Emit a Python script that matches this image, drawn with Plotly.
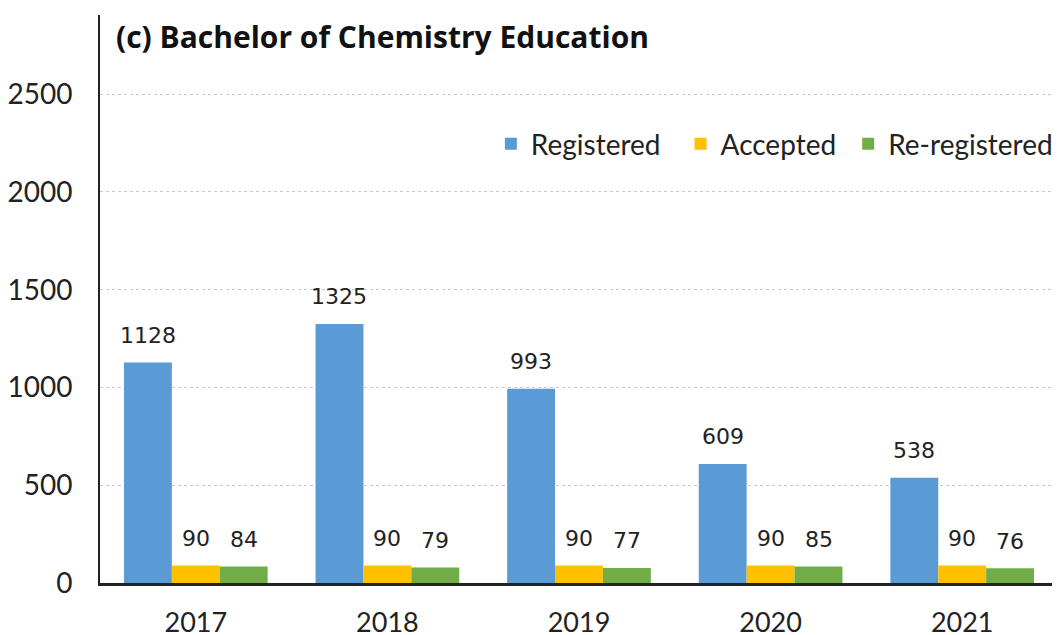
import plotly.graph_objects as go

years = ["2017", "2018", "2019", "2020", "2021"]
registered = [1128, 1325, 993, 609, 538]
accepted = [90, 90, 90, 90, 90]
reregistered = [84, 79, 77, 85, 76]
series_names = ["Registered", "Accepted", "Re-registered"]
colors = ["#5B9BD5", "#FFC000", "#70AD47"]
title_text = "(c) Bachelor of Chemistry Education"
y_ticks = [0, 500, 1000, 1500, 2000, 2500]

xpos = list(range(len(years)))
legend_ids = ["legend", "legend2", "legend3"]
legend_x = [0.408, 0.606, 0.781]

fig = go.Figure()
all_series = [registered, accepted, reregistered]
for name, vals, col, lg in zip(series_names, all_series, colors, legend_ids):
    fig.add_trace(go.Bar(x=xpos, y=vals, name=name, legend=lg,
                         marker=dict(color=col, line=dict(width=0))))

bar_px = 48
offsets = [-bar_px, 0, bar_px]
for vals, off in zip(all_series, offsets):
    for xi, v in zip(xpos, vals):
        fig.add_annotation(x=xi, y=v, text=str(v), showarrow=False, xshift=off, yshift=27,
                           yanchor="middle", font=dict(family="DejaVu Sans", size=22, color="#222"))

fig.add_annotation(xref="paper", yref="paper", x=0.015, y=0.963, xanchor="left", yanchor="middle",
                   text="<b>" + title_text + "</b>", showarrow=False,
                   font=dict(family="Open Sans", size=30, color="#111"))

legend_style = dict(orientation="h", y=0.773, xanchor="left", yanchor="middle",
                    font=dict(family="Lato", size=28, color="#222"), bgcolor="rgba(0,0,0,0)")
layout_legends = {lg: dict(legend_style, x=lx) for lg, lx in zip(legend_ids, legend_x)}

fig.update_layout(
    width=1060, height=635,
    margin=dict(l=92, r=10, t=7, b=60),
    paper_bgcolor="white", plot_bgcolor="white",
    barmode="group", bargap=0.25, bargroupgap=0,
    font=dict(family="Lato", size=28, color="#222"),
    showlegend=True,
    **layout_legends,
)
fig.update_yaxes(range=[0, 2905], tickvals=y_ticks, showgrid=True, gridcolor="#C8C8C8", griddash="dot",
                 gridwidth=1, showline=True, linecolor="#222", linewidth=2, zeroline=False,
                 automargin=False, ticks="", ticklabelstandoff=20, tickfont=dict(family="Lato", size=28))
fig.update_xaxes(range=[-0.5, len(years) - 0.5], tickvals=xpos, ticktext=years, showgrid=False,
                 zeroline=False, showline=True, linecolor="#222", linewidth=3, ticks="",
                 automargin=False, ticklabelstandoff=14, tickfont=dict(family="Lato", size=27))

fig.write_html("out.html")
